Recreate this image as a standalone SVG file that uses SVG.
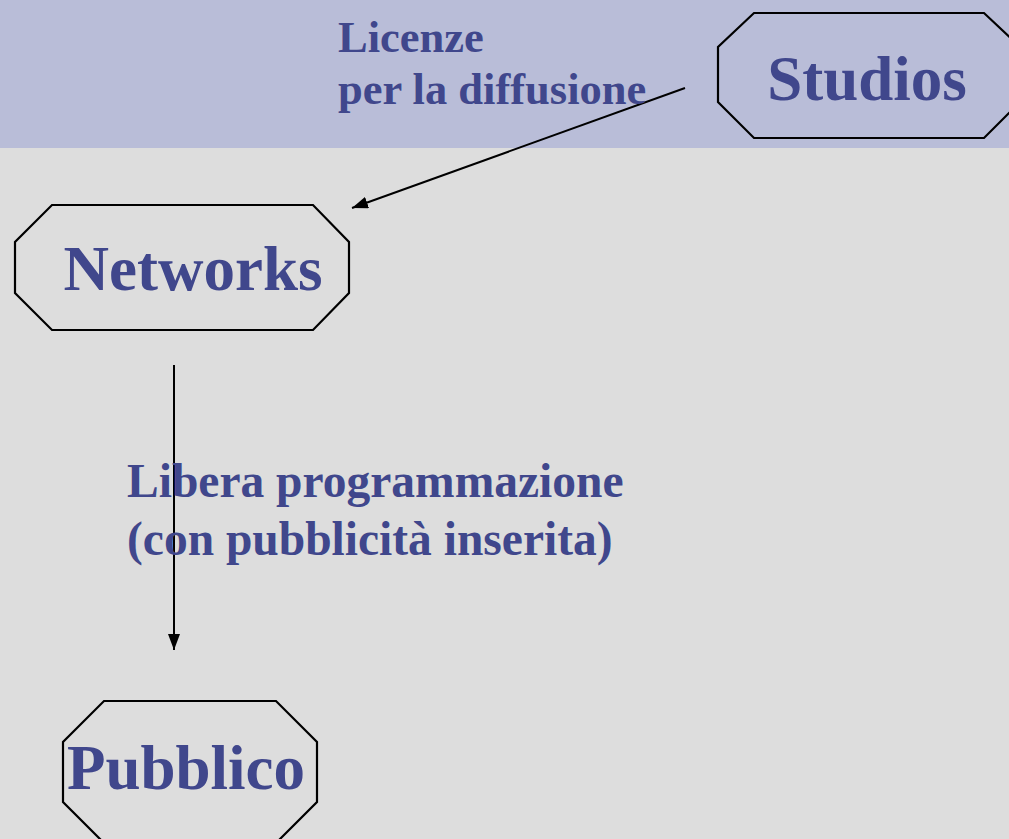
<svg xmlns="http://www.w3.org/2000/svg" width="1009" height="839" viewBox="0 0 1009 839">
<style>
.node{stroke:#000;stroke-width:2.2;stroke-linejoin:miter}
.big{font-family:"Liberation Serif","Times New Roman",serif;font-weight:bold;font-size:63px;fill:#40478C}
.lbl{font-family:"Liberation Serif","Times New Roman",serif;font-weight:bold;fill:#40478C}
.edge{stroke:#000;stroke-width:2;fill:none}
</style>
<defs>
<marker id="ah" viewBox="0 0 16 12" refX="16" refY="6" markerWidth="16" markerHeight="12" markerUnits="userSpaceOnUse" orient="auto">
<path d="M0,0 L16,6 L0,12 z" fill="#000"/>
</marker>
</defs>
<rect x="0" y="0" width="1009" height="839" fill="#DDDDDD"/>
<rect x="0" y="0" width="1009" height="148" fill="#B9BDD8"/>
<g id="studios">
<polygon class="node" fill="#B9BDD8" points="754,13 984,13 1020,47 1020,102 984,138 754,138 718,102 718,47"/>
<text class="big" x="867" y="100" text-anchor="middle">Studios</text>
</g>
<g id="networks">
<polygon class="node" fill="#DDDDDD" points="52,205 313,205 349,242 349,293 313,330 52,330 15,293 15,242"/>
<text class="big" x="193" y="290" text-anchor="middle">Networks</text>
</g>
<g id="pubblico">
<polygon class="node" fill="#DDDDDD" points="104,701 276,701 317,742 317,802 276,843 104,843 63,802 63,742"/>
<text class="big" x="186" y="789" text-anchor="middle">Pubblico</text>
</g>
<g id="connectors">
<line class="edge" x1="685" y1="88" x2="352" y2="208" marker-end="url(#ah)"/>
<line class="edge" x1="174" y1="365" x2="174" y2="650" marker-end="url(#ah)"/>
</g>
<g id="labels">
<text class="lbl" font-size="44.5" x="338" y="52">Licenze</text>
<text class="lbl" font-size="44.5" x="338" y="104">per la diffusione</text>
<text class="lbl" font-size="47.5" x="127" y="497">Libera programmazione</text>
<text class="lbl" font-size="47.5" x="127" y="555">(con pubblicità inserita)</text>
</g>
</svg>
